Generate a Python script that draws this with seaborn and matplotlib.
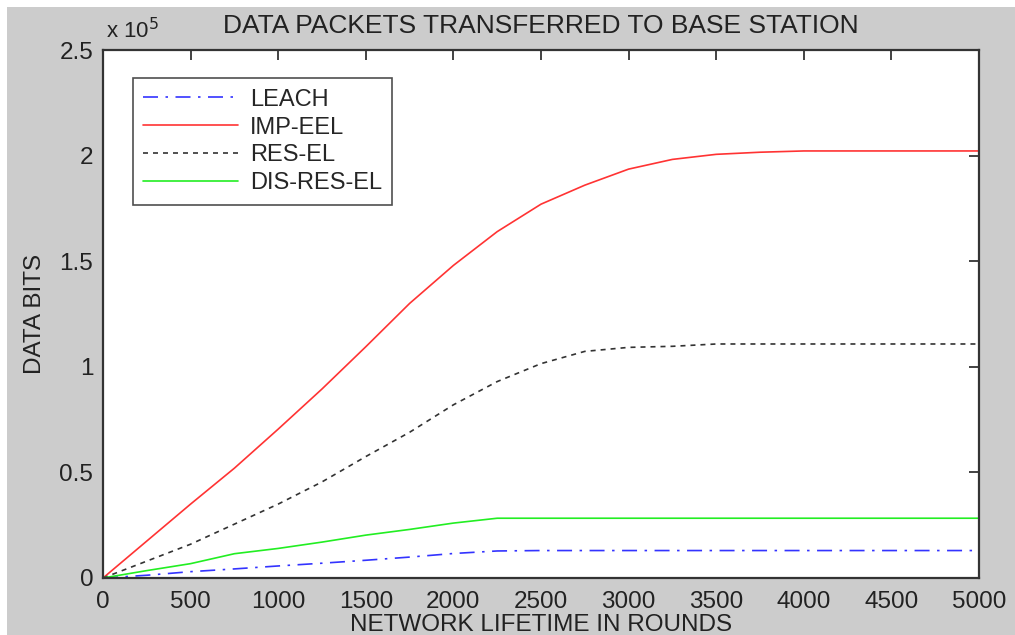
import numpy as np
import pandas as pd
import matplotlib
matplotlib.use('Agg')
import matplotlib.pyplot as plt
import seaborn as sns
from matplotlib.patches import Rectangle
from matplotlib.ticker import FuncFormatter, MultipleLocator

# data (data bits)
rounds = [0, 250, 500, 750, 1000, 1250, 1500, 1750, 2000, 2250, 2500,
          2750, 3000, 3250, 3500, 3750, 4000, 4500, 5000]
leach = [0, 1300, 3000, 4300, 5700, 7000, 8400, 9900, 11600, 12800, 13000,
         13000, 13000, 13000, 13000, 13000, 13000, 13000, 13000]
imp_eel = [0, 17500, 35000, 52000, 70500, 89500, 109500, 130000, 148000, 164000, 177000,
           186000, 193600, 198200, 200600, 201600, 202200, 202200, 202200]
res_el = [0, 8000, 16000, 25500, 35000, 45500, 57500, 69000, 82000, 93000, 101500,
          107300, 109200, 109700, 110800, 110800, 110800, 110800, 110800]
dis_res_el = [0, 3500, 6800, 11500, 14000, 17000, 20300, 23000, 26000, 28300, 28300,
              28300, 28300, 28300, 28300, 28300, 28300, 28300, 28300]

labels = ['LEACH', 'IMP-EEL', 'RES-EL', 'DIS-RES-EL']
series = [leach, imp_eel, res_el, dis_res_el]
colors = ['#3333ff', '#ff3333', '#333333', '#22ee22']
dashes = [(9, 4.5, 1.5, 4.5), '', (3, 3), '']

df = pd.DataFrame({'round': rounds * 4,
                   'bits': sum(series, []),
                   'protocol': sum([[l] * len(rounds) for l in labels], [])})

sns.set_style('white')
plt.rcParams['font.family'] = ['Liberation Sans', 'DejaVu Sans']

fig = plt.figure(figsize=(10.15, 6.35), dpi=100, facecolor='white')
fig.patches.append(Rectangle((7 / 1015, 0), 1, 628 / 635, transform=fig.transFigure,
                             facecolor='#cccccc', edgecolor='none', zorder=-10))
ax = fig.add_axes([103 / 1015, 1 - 578 / 635, 876 / 1015, 528 / 635])

sns.lineplot(data=df, x='round', y='bits', hue='protocol', style='protocol',
             palette=dict(zip(labels, colors)), dashes=dict(zip(labels, dashes)),
             linewidth=1.2, ax=ax)

ax.set_xlim(0, 5000)
ax.set_ylim(0, 250000)
ax.xaxis.set_major_locator(MultipleLocator(500))
ax.yaxis.set_major_locator(MultipleLocator(50000))
ax.yaxis.set_major_formatter(FuncFormatter(lambda v, p: '%g' % (v / 1e5)))
ax.tick_params(direction='in', length=7, width=1.2, top=True, right=True,
               labelsize=17.5, colors='#222222')
ax.tick_params(axis='x', pad=9)
ax.tick_params(axis='y', pad=7)
for s in ax.spines.values():
    s.set_color('#333333')
    s.set_linewidth(1.6)

ax.set_xlabel('NETWORK LIFETIME IN ROUNDS', fontsize=17.5, color='#222222', labelpad=1)
ax.set_ylabel('DATA BITS', fontsize=17.5, color='#222222', labelpad=10)
ax.set_title('DATA PACKETS TRANSFERRED TO BASE STATION', fontsize=19, color='#222222', pad=12)
ax.text(0.003, 1.012, r'x 10$^5$', transform=ax.transAxes, fontsize=16,
        color='#222222', va='bottom', ha='left')

leg = ax.legend(loc='upper left', bbox_to_anchor=(0.034, 0.947), borderaxespad=0,
                fontsize=17, frameon=True, fancybox=False, handlelength=4.0,
                handletextpad=0.5, labelspacing=0.25, borderpad=0.45)
leg.get_frame().set_edgecolor('#222222')
leg.get_frame().set_linewidth(1.2)

plt.savefig('out.png', dpi=100, facecolor=fig.get_facecolor())
